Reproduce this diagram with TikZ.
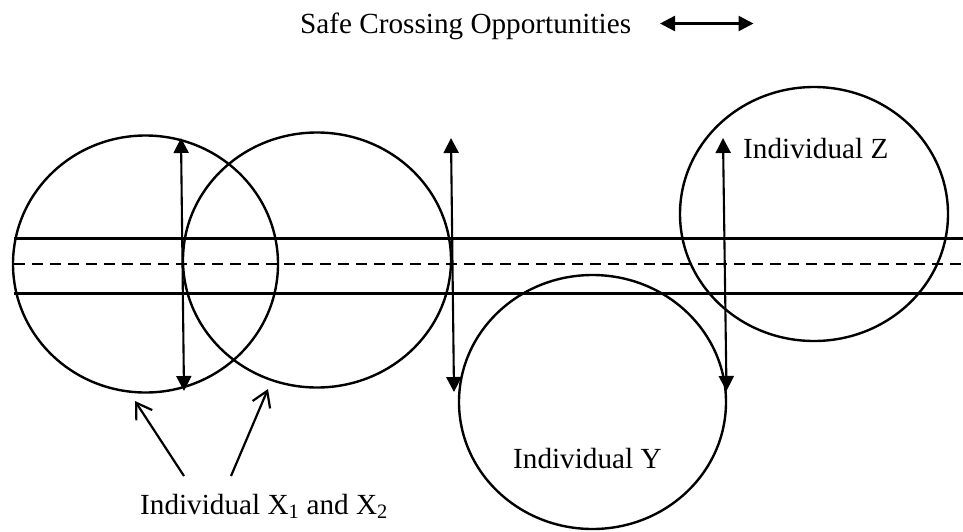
\documentclass[tikz,border=0pt]{standalone}
\usepackage{fontspec}
\setmainfont{Liberation Serif}
\usetikzlibrary{arrows.meta,shapes.geometric}
\begin{document}
\begin{tikzpicture}[x=1pt,y=-1pt,
  person/.style={draw,ellipse,line width=2.4pt,inner sep=0pt},
  road/.style={line width=3pt},
  cross/.style={line width=2.1pt,{Triangle[length=15pt,width=15pt]}-{Triangle[length=15pt,width=15pt]}},
  pointer/.style={line width=2.2pt,-{Straight Barb[length=15pt,width=19pt]}},
  lbl/.style={font=\fontsize{29.2pt}{32pt}\selectfont,inner sep=0pt}]
\useasboundingbox (0,0) rectangle (963,531);
% road
\coordinate (rl1) at (14,238); \coordinate (rr1) at (963,238);
\coordinate (rl2) at (14,293); \coordinate (rr2) at (963,293);
\coordinate (rlm) at (14,264); \coordinate (rrm) at (963,264);
\draw[road] (rl1) -- (rr1);
\draw[road] (rl2) -- (rr2);
\draw[road,line width=2.4pt,dash pattern=on 11pt off 7pt] (rlm) -- (rrm);
% individuals
\node[person,minimum width=265pt,minimum height=257pt] (x1) at (145.5,264) {};
\node[person,minimum width=268pt,minimum height=255pt] (x2) at (317,260) {};
\node[person,minimum width=267pt,minimum height=254pt] (y) at (592.5,402) {};
\node[person,minimum width=268pt,minimum height=254pt] (z) at (814,214) {};
% crossing opportunities
\coordinate (a1t) at (181,138); \coordinate (a1b) at (184,391);
\coordinate (a2t) at (451,138); \coordinate (a2b) at (454,392);
\coordinate (a3t) at (723,138); \coordinate (a3b) at (726.5,391);
\draw[cross] (a1t) -- (a1b);
\draw[cross] (a2t) -- (a2b);
\draw[cross] (a3t) -- (a3b);
% labels
\node[lbl,anchor=base west] (lz) at (743,158) {Individual Z};
\node[lbl,anchor=base west] (ly) at (513,468) {Individual Y};
\node[lbl,anchor=base west] (lx) at (140,514) {Individual X\textsubscript{1} and X\textsubscript{2}};
\node[lbl,anchor=base west] (legend) at (300,33) {Safe Crossing Opportunities};
\coordinate (legl) at (660,23.5); \coordinate (legr) at (753.5,23.5);
\draw[cross,line width=2.4pt] (legl) -- (legr);
% pointers
\coordinate (p1s) at (184,476); \coordinate (p1e) at (135,401);
\coordinate (p2s) at (231,476); \coordinate (p2e) at (268,389);
\draw[pointer] (p1s) -- (p1e);
\draw[pointer] (p2s) -- (p2e);
\end{tikzpicture}
\end{document}
